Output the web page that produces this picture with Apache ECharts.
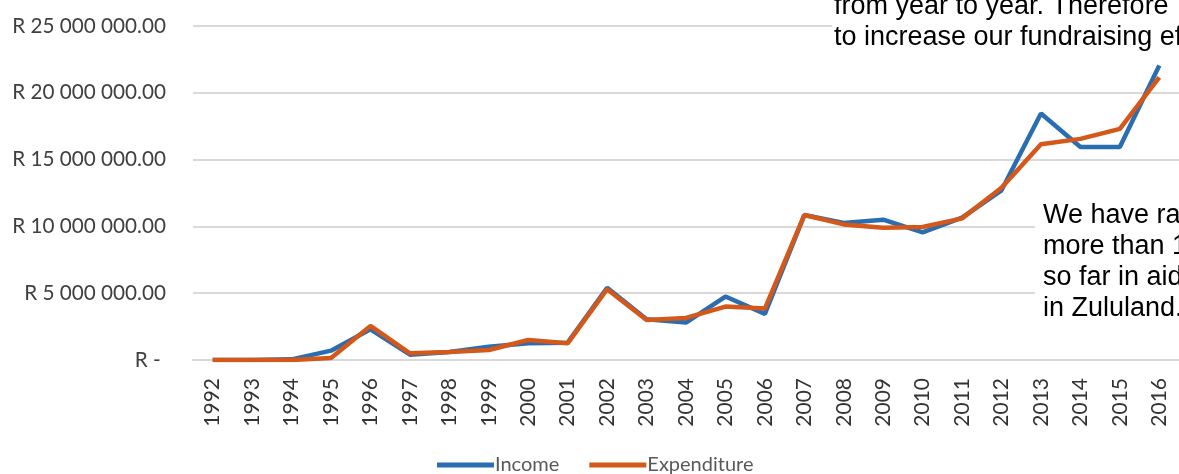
<!DOCTYPE html>
<html>
<head>
<meta charset="utf-8">
<script src="https://cdn.jsdelivr.net/npm/echarts@6/dist/echarts.min.js"></script>
<style>
html,body{margin:0;padding:0;background:#fff;}
#c{width:1179px;height:474px;}
</style>
</head>
<body>
<div id="c"></div>
<script>
const years = ['1992','1993','1994','1995','1996','1997','1998','1999','2000','2001','2002','2003','2004','2005','2006','2007','2008','2009','2010','2011','2012','2013','2014','2015','2016'];
const income = [0, 0, 50000, 700000, 2300000, 400000, 600000, 1000000, 1250000, 1300000, 5400000, 3050000, 2800000, 4750000, 3450000, 10850000, 10250000, 10500000, 9550000, 10650000, 12700000, 18450000, 15950000, 15950000, 22050000];
const expenditure = [0, 0, 0, 150000, 2550000, 500000, 600000, 750000, 1500000, 1250000, 5300000, 3000000, 3150000, 4000000, 3850000, 10850000, 10150000, 9900000, 9950000, 10600000, 12900000, 16150000, 16550000, 17300000, 21150000];
const yTicks = {min: 0, max: 25000000, interval: 5000000};
const note1 = ['from year to year. Therefore', 'to increase our fundraising ef'];
const note2 = ['We have ra', 'more than 1', 'so far in aid', 'in Zululand.'];

function fmt(v){
  if (v === 0) return 'R - ';
  const s = Math.round(v).toString().replace(/\B(?=(\d{3})+(?!\d))/g, ' ');
  return 'R ' + s + '.00';
}

const chart = echarts.init(document.getElementById('c'), null, {renderer:'canvas'});
chart.setOption({
  animation: false,
  backgroundColor: '#ffffff',
  grid: {left: 193, top: 26, width: 990, height: 334, containLabel: false},
  legend: {
    bottom: -6, left: 432,
    itemWidth: 57, itemHeight: 5, itemGap: 30,
    icon: 'rect',
    textStyle: {fontFamily: 'Lato', fontSize: 20, color: '#595959', padding: [0,0,0,-4]},
    data: ['Income', 'Expenditure']
  },
  xAxis: {
    type: 'category', data: years, boundaryGap: true,
    axisLine: {lineStyle: {color: '#d9d9d9', width: 2}},
    axisTick: {show: false},
    axisLabel: {rotate: 90, fontFamily: 'Lato', fontSize: 21, color: '#333333', margin: 18, interval: 0}
  },
  yAxis: {
    type: 'value', min: yTicks.min, max: yTicks.max, interval: yTicks.interval,
    axisLine: {show: false}, axisTick: {show: false},
    splitLine: {lineStyle: {color: '#d9d9d9', width: 2}},
    axisLabel: {formatter: fmt, fontFamily: 'Lato', fontSize: 20.7, color: '#404040', margin: 27}
  },
  series: [
    {name: 'Income', type: 'line', data: income, symbol: 'none', lineStyle: {width: 4.5, color: '#2a6db0'}, itemStyle: {color: '#2a6db0'}, z: 2},
    {name: 'Expenditure', type: 'line', data: expenditure, symbol: 'none', lineStyle: {width: 4.5, color: '#d4581a'}, itemStyle: {color: '#d4581a'}, z: 3}
  ],
  graphic: [
    {type: 'rect', z: 100, shape: {x: 832, y: 0, width: 360, height: 58}, style: {fill: '#ffffff'}},
    {type: 'text', z: 101, left: 834, top: -9, style: {text: note1.join('\n'), fontFamily: 'Liberation Sans', fontSize: 27, lineHeight: 31, fill: '#000000'}},
    {type: 'rect', z: 100, shape: {x: 1035, y: 196, width: 160, height: 142}, style: {fill: '#ffffff'}},
    {type: 'text', z: 101, left: 1043, top: 200, style: {text: note2.join('\n'), fontFamily: 'Liberation Sans', fontSize: 27, lineHeight: 31, fill: '#000000'}}
  ]
});
</script>
</body>
</html>
